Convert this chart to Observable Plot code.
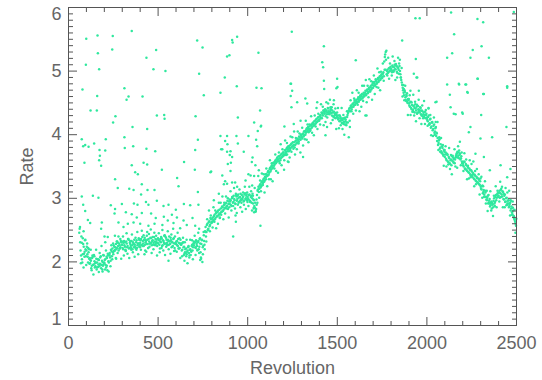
<!DOCTYPE html>
<html><head><meta charset="utf-8">
<script src="https://cdn.jsdelivr.net/npm/d3@7"></script>
<script src="https://cdn.jsdelivr.net/npm/@observablehq/plot@0.6"></script>
<style>body{margin:0;background:#fff}</style>
</head><body><div id="chart"></div>
<script>
// Dense band of measurements: one value every 5 revolutions, three interleaved series
const bandStartA = 60, bandStartB = 62, bandStartC = 64, bandStep = 5;
const bandA = [
2.46,2.31,2.10,2.04,2.37,2.24,2.16,2.20,
2.18,2.12,2.22,2.05,1.98,2.02,1.94,2.08,1.96,2.01,1.93,2.05,1.99,1.92,2.03,1.97,2.09,1.95,2.00,1.96,
1.98,2.04,1.91,2.06,2.10,1.99,2.14,2.02,2.17,2.21,2.12,2.24,2.19,2.28,2.22,2.30,2.18,2.26,2.23,2.31,
2.27,2.20,2.33,2.24,2.18,2.29,2.25,2.35,2.22,2.28,2.19,2.26,2.31,2.23,2.27,2.21,2.34,2.26,2.29,2.24,
2.30,2.36,2.27,2.33,2.25,2.38,2.31,2.28,2.35,2.22,2.32,2.29,2.37,2.26,2.34,2.30,2.27,2.36,2.31,2.25,
2.29,2.34,2.21,2.31,2.37,2.26,2.33,2.28,2.40,2.24,2.30,2.35,2.27,2.32,2.38,2.23,2.31,2.36,2.29,2.18,
2.28,2.33,2.25,2.30,2.22,2.35,2.27,2.19,2.31,2.24,2.15,2.21,2.12,2.18,2.25,2.10,2.20,2.16,2.27,2.23,
2.26,2.31,2.22,2.28,2.19,2.33,2.24,2.29,2.05,2.35,2.12,2.42,2.20,2.55,2.47,2.60,2.52,2.64,2.58,2.67,
2.62,2.70,2.66,2.74,2.69,2.78,2.72,2.81,2.75,2.70,2.84,2.79,2.86,2.82,2.90,2.85,2.93,2.88,2.83,2.95,
2.91,2.97,2.88,3.02,2.94,2.99,2.92,3.05,2.96,2.90,3.01,2.95,3.07,2.93,2.98,3.03,2.96,3.08,3.00,2.97,
3.02,2.98,3.06,2.95,3.04,3.00,2.92,2.97,2.85,2.80,2.90,3.12,3.18,3.15,3.22,3.19,3.27,3.24,3.31,3.28,
3.33,3.38,3.35,3.43,3.40,3.48,3.45,3.52,3.49,3.56,3.53,3.60,3.57,3.64,3.61,3.58,3.67,3.63,3.70,3.66,
3.72,3.68,3.76,3.73,3.80,3.77,3.74,3.83,3.79,3.86,3.82,3.78,3.88,3.84,3.91,3.87,3.93,3.89,3.96,3.92,
3.98,3.94,4.02,3.99,4.06,4.03,4.10,4.07,4.04,4.13,4.09,4.16,4.12,4.19,4.15,4.22,4.18,4.25,4.21,4.28,
4.24,4.31,4.27,4.34,4.30,4.37,4.33,4.29,4.38,4.35,4.41,4.32,4.36,4.40,4.30,4.35,4.28,4.33,4.26,4.31,
4.27,4.24,4.30,4.22,4.26,4.19,4.23,4.17,4.25,4.21,4.15,4.28,4.34,4.38,4.42,4.45,4.40,4.48,4.44,4.51,
4.47,4.53,4.50,4.56,4.52,4.58,4.55,4.61,4.57,4.63,4.60,4.66,4.62,4.69,4.65,4.72,4.68,4.75,4.71,4.78,
4.74,4.81,4.77,4.84,4.80,4.87,4.83,4.90,4.86,4.93,4.89,4.96,4.92,5.22,5.30,4.95,5.02,4.98,5.05,5.01,
5.04,4.98,5.07,5.01,5.10,5.03,5.08,4.97,5.05,5.12,5.00,4.90,4.82,4.74,4.66,4.70,4.59,4.63,4.52,4.56,
4.49,4.44,4.52,4.40,4.46,4.36,4.42,4.48,4.38,4.33,4.45,4.39,4.35,4.42,4.30,4.37,4.32,4.28,4.36,4.31,
4.27,4.21,4.30,4.18,4.25,4.13,4.20,4.09,4.16,4.05,4.12,4.02,3.95,3.87,3.93,3.80,3.74,3.82,3.69,3.76,
3.65,3.72,3.60,3.68,3.57,3.63,3.54,3.61,3.66,3.58,3.62,3.55,3.64,3.69,3.73,3.67,3.75,3.70,3.63,3.58,
3.55,3.50,3.57,3.46,3.52,3.43,3.48,3.40,3.45,3.36,3.42,3.33,3.38,3.30,3.35,3.27,3.32,3.24,3.29,3.21,
3.18,3.14,3.20,3.10,3.06,3.12,3.02,2.97,3.04,2.93,2.99,2.89,2.95,2.91,2.86,3.00,2.94,3.05,3.01,3.08,
3.04,3.12,3.08,3.15,3.03,3.10,2.98,3.06,2.95,3.01,2.92,2.97,2.88,2.93,2.84,2.78,2.85,2.72,2.66,2.60
];
const bandB = [
2.52,2.18,2.40,1.99,2.28,2.13,2.34,2.09,
2.24,2.08,2.15,1.97,2.03,1.90,2.06,1.95,2.11,1.91,1.99,1.88,2.04,1.96,1.93,2.07,1.90,2.02,1.94,2.10,
2.03,1.95,2.08,1.87,2.01,2.12,2.07,2.19,2.09,2.15,2.26,2.17,2.23,2.20,2.32,2.25,2.29,2.21,2.33,2.27,
2.22,2.30,2.26,2.19,2.32,2.23,2.36,2.21,2.30,2.25,2.33,2.20,2.28,2.35,2.24,2.31,2.22,2.29,2.37,2.27,
2.34,2.26,2.39,2.29,2.35,2.27,2.33,2.41,2.28,2.36,2.24,2.38,2.30,2.33,2.27,2.39,2.32,2.28,2.35,2.30,
2.36,2.27,2.32,2.39,2.25,2.34,2.30,2.42,2.29,2.35,2.26,2.33,2.40,2.28,2.34,2.31,2.25,2.37,2.22,2.30,
2.32,2.26,2.36,2.21,2.29,2.27,2.18,2.30,2.23,2.13,2.20,2.09,2.16,2.23,2.14,2.19,2.11,2.25,2.18,2.29,
2.30,2.23,2.34,2.25,2.31,2.20,2.36,2.15,2.28,2.00,2.25,2.33,2.48,2.40,2.58,2.50,2.62,2.56,2.69,2.61,
2.68,2.64,2.72,2.67,2.76,2.71,2.79,2.73,2.82,2.77,2.74,2.87,2.80,2.89,2.84,2.92,2.87,2.96,2.91,2.86,
2.95,2.89,3.00,2.93,3.04,2.97,2.91,3.03,2.99,3.06,2.94,3.02,2.97,3.05,3.01,2.95,3.06,2.99,3.04,3.09,
2.99,3.05,2.96,3.02,2.93,3.07,2.98,2.88,2.93,2.83,3.05,3.14,3.10,3.20,3.17,3.25,3.21,3.29,3.26,3.34,
3.30,3.36,3.41,3.37,3.46,3.42,3.50,3.47,3.55,3.51,3.58,3.55,3.62,3.59,3.66,3.63,3.60,3.69,3.65,3.72,
3.69,3.75,3.71,3.78,3.74,3.82,3.79,3.76,3.85,3.81,3.88,3.84,3.80,3.90,3.86,3.94,3.90,3.97,3.93,4.00,
3.96,4.01,3.97,4.05,4.00,4.08,4.05,4.12,4.09,4.06,4.15,4.11,4.18,4.14,4.21,4.17,4.24,4.20,4.27,4.23,
4.29,4.26,4.35,4.31,4.38,4.34,4.40,4.36,4.32,4.42,4.37,4.33,4.39,4.34,4.38,4.29,4.36,4.31,4.34,4.28,
4.30,4.26,4.21,4.28,4.23,4.18,4.26,4.20,4.16,4.24,4.19,4.31,4.36,4.41,4.37,4.46,4.43,4.49,4.46,4.54,
4.50,4.55,4.52,4.59,4.54,4.60,4.57,4.64,4.59,4.66,4.62,4.69,4.64,4.71,4.67,4.74,4.70,4.77,4.73,4.80,
4.77,4.83,4.79,4.86,4.82,4.89,4.85,4.92,4.88,4.95,4.91,4.98,5.15,5.26,5.18,5.00,4.97,5.04,5.00,5.07,
5.02,5.09,5.00,5.06,5.03,5.11,4.99,5.06,5.02,5.08,4.95,4.86,4.78,4.70,4.62,4.67,4.55,4.61,4.50,4.54,
4.46,4.51,4.42,4.47,4.39,4.45,4.35,4.41,4.44,4.34,4.40,4.36,4.43,4.32,4.38,4.29,4.35,4.31,4.26,4.33,
4.23,4.28,4.16,4.24,4.11,4.19,4.07,4.14,4.03,4.10,3.98,3.90,3.84,3.91,3.78,3.85,3.72,3.79,3.67,3.73,
3.69,3.62,3.70,3.58,3.65,3.55,3.60,3.52,3.59,3.64,3.56,3.61,3.67,3.71,3.64,3.72,3.68,3.61,3.66,3.55,
3.52,3.58,3.47,3.54,3.44,3.50,3.41,3.47,3.38,3.44,3.35,3.40,3.31,3.37,3.28,3.34,3.25,3.31,3.22,3.27,
3.15,3.19,3.08,3.13,3.03,3.09,2.98,3.01,2.92,2.96,2.87,2.93,2.84,2.90,2.96,2.92,3.02,2.97,3.06,3.03,
3.09,3.01,3.13,3.06,3.11,2.99,3.04,2.94,3.00,2.90,2.96,2.86,2.91,2.81,2.87,2.75,2.81,2.68,2.63,2.57
];
const bandC = [
2.55,1.98,2.30,2.12,2.48,2.08,2.35,1.95,
2.29,1.99,2.20,2.06,2.19,1.87,2.10,1.80,2.09,1.98,2.19,1.91,2.04,1.84,2.14,1.96,2.25,1.88,2.11,1.99,
1.88,2.18,1.94,2.13,1.85,2.10,1.93,2.26,2.04,2.29,2.17,2.41,2.06,2.32,2.14,2.40,2.21,2.36,2.05,2.32,
2.40,2.10,2.31,2.17,2.45,2.13,2.36,2.06,2.33,2.22,2.43,2.15,2.28,2.08,2.38,2.19,2.47,2.12,2.35,2.23,
2.19,2.49,2.25,2.42,2.12,2.35,2.16,2.47,2.22,2.44,2.29,2.51,2.14,2.39,2.20,2.46,2.26,2.41,2.10,2.37,
2.45,2.15,2.36,2.22,2.50,2.18,2.41,2.11,2.38,2.27,2.48,2.20,2.33,2.13,2.43,2.24,2.52,2.17,2.40,2.28,
2.16,2.46,2.21,2.37,2.06,2.29,2.09,2.38,2.11,2.31,2.14,2.35,1.98,2.24,2.07,2.35,2.17,2.34,2.04,2.32,
2.41,2.11,2.32,2.18,2.46,2.14,2.37,2.07,2.34,2.23,2.47,2.27,2.47,2.32,2.67,2.51,2.81,2.48,2.73,2.63,
2.54,2.86,2.63,2.81,2.53,2.78,2.60,2.93,2.69,2.93,2.79,3.03,2.67,2.93,2.76,3.03,2.84,3.00,2.70,2.98,
3.11,2.81,3.02,2.88,3.16,2.84,3.07,2.77,3.04,2.93,3.14,2.86,2.99,2.79,3.09,2.90,3.18,2.83,3.06,2.94,
2.88,3.18,2.94,3.11,2.81,3.04,2.85,3.16,2.79,2.98,2.93,3.35,3.01,3.28,3.11,3.39,3.21,3.38,3.09,3.38,
3.47,3.19,3.42,3.30,3.60,3.30,3.55,3.27,3.56,3.47,3.69,3.43,3.58,3.40,3.72,3.55,3.85,3.52,3.77,3.67,
3.60,3.91,3.68,3.87,3.58,3.82,3.64,3.97,3.73,3.96,3.82,4.05,3.69,3.95,3.77,4.05,3.86,4.02,3.72,4.00,
4.11,3.83,4.05,3.93,4.22,3.92,4.16,3.88,4.16,4.07,4.29,4.03,4.17,3.99,4.30,4.13,4.42,4.09,4.33,4.22,
4.16,4.48,4.26,4.44,4.15,4.39,4.20,4.51,4.27,4.49,4.34,4.55,4.18,4.43,4.23,4.48,4.27,4.41,4.09,4.35,
4.42,4.10,4.30,4.15,4.42,4.09,4.31,4.00,4.27,4.16,4.37,4.19,4.38,4.22,4.54,4.37,4.66,4.33,4.57,4.47,
4.38,4.70,4.47,4.66,4.37,4.62,4.44,4.77,4.53,4.77,4.63,4.86,4.51,4.77,4.59,4.87,4.68,4.84,4.55,4.83,
4.93,4.64,4.87,4.75,5.04,4.74,4.98,4.70,4.99,4.89,5.12,4.85,5.02,5.02,5.32,4.93,5.21,4.88,5.12,5.01,
4.93,5.23,4.99,5.16,4.86,5.09,4.90,5.21,4.96,5.18,4.90,5.05,4.60,4.78,4.54,4.77,4.53,4.65,4.31,4.56,
4.62,4.31,4.51,4.36,4.63,4.30,4.52,4.21,4.47,4.35,4.55,4.26,4.38,4.17,4.46,4.26,4.53,4.17,4.39,4.26,
4.14,4.42,4.16,4.31,3.99,4.19,3.98,4.27,4.00,4.20,4.03,4.20,3.76,3.96,3.73,3.95,3.71,3.84,3.51,3.76,
3.82,3.50,3.69,3.53,3.79,3.46,3.68,3.38,3.67,3.56,3.77,3.50,3.65,3.48,3.82,3.63,3.89,3.52,3.72,3.57,
3.43,3.71,3.46,3.61,3.30,3.51,3.31,3.60,3.33,3.54,3.37,3.58,3.19,3.43,3.22,3.46,3.25,3.38,3.06,3.31,
3.34,3.01,3.19,3.02,3.27,2.92,3.12,2.80,3.05,2.92,3.11,2.81,2.93,2.72,3.04,2.88,3.19,2.86,3.12,3.02,
2.95,3.26,3.02,3.18,2.86,3.07,2.86,3.16,2.89,3.09,2.92,3.12,2.73,2.96,2.74,2.95,2.71,2.82,2.46,2.68
];
// Scattered outliers (revolution, rate)
const outRev = [
99,162,247,353,164,244,171,97,78,489,435,474,541,718,748,913,916,941,898,885,1060,1246,729,872,939,1049,1077,848,755,312,
335,324,413,160,123,158,262,249,493,534,536,439,357,709,945,1069,1036,1075,1056,1205,1242,1240,1244,74,82,93,112,143,173,205,
175,171,182,89,208,312,314,361,435,484,353,419,439,372,387,409,260,521,606,645,707,705,722,796,848,852,858,874,885,887,
904,900,906,889,904,937,945,978,1004,1027,1023,1047,1053,1073,1203,1228,1220,874,867,930,1004,1036,
74,136,167,82,93,275,339,363,405,441,480,614,722,236,260,298,365,385,432,446,493,530,558,599,644,679,725,257,320,353,
381,409,461,487,532,577,605,642,692,707,108,121,182,201,219,279,307,331,363,400,446,480,524,554,586,623,660,729,186,205,
84,190,266,428,558,647,735,1071,919,932,934,
792,858,885,913,839,811,941,988,1016,1025,1034,1036,960,913,885,1043,1062,
1425,1416,1421,1603,1425,1499,1501,1427,1388,1332,1276,1239,1248,1481,1462,1443,1564,1663,1434,1309,1570,1871,1908,1257,1295,
2135,1936,1960,2282,2314,2152,1862,1938,2113,2141,2256,2305,2243,2346,2485,2180,2219,2282,2314,2448,2113,2228,2132,2160,2303,2200,2054,2009,1942,1955,1322,1495,1657,
1927,1946,2048,2128,2178,2215,2284,2318,2225,2150,2197,2243,2234,2299,2364,2448,2444,2351,2411,2466,2448,2318,2271,2466,2485
];
const outRate = [
5.51,5.56,5.55,5.63,5.28,5.34,5.03,5.10,4.71,5.33,5.21,5.03,5.00,5.48,5.37,5.49,5.45,5.54,5.25,5.23,5.29,5.62,4.96,4.90,4.76,4.74,4.73,4.66,4.62,4.73,
4.60,4.55,4.60,4.61,4.38,4.38,4.29,4.19,4.30,4.31,4.25,4.09,4.12,4.29,4.27,4.38,4.19,4.14,4.06,4.13,4.80,4.61,4.43,3.93,3.82,3.84,3.81,3.86,3.76,3.75,
3.67,3.60,3.51,3.56,3.93,3.96,3.79,3.82,3.78,3.74,3.52,3.56,3.53,3.41,3.38,3.22,3.30,3.45,3.32,3.57,3.76,3.45,3.92,3.42,3.98,3.77,3.77,3.90,3.98,3.85,
3.74,3.68,3.56,3.54,3.43,3.98,3.86,3.73,3.98,3.64,3.57,3.92,3.82,4.13,3.45,3.57,3.69,3.27,3.22,3.25,3.38,3.35,
3.03,3.04,3.01,2.90,2.80,3.16,3.15,3.13,3.06,3.13,3.13,3.19,3.10,2.89,2.83,2.91,2.92,2.90,2.94,2.90,2.96,2.88,2.90,2.82,2.91,2.89,2.90,2.76,2.78,2.75,
2.70,2.77,2.76,2.69,2.71,2.74,2.70,2.65,2.69,2.57,2.66,2.61,2.52,2.40,2.39,2.62,2.55,2.60,2.62,2.60,2.57,2.60,2.58,2.65,2.61,2.53,2.58,2.52,2.62,2.31,
1.91,1.85,2.05,2.18,2.02,2.02,2.03,2.57,2.40,2.73,2.63,
3.41,3.36,3.23,3.25,3.07,2.97,3.18,3.28,3.36,3.20,2.84,2.78,2.97,3.65,3.73,3.52,3.44,
5.39,5.14,5.06,5.17,4.85,4.88,4.75,4.72,4.51,4.49,4.51,4.80,4.69,4.54,4.43,4.12,3.96,4.30,3.99,3.65,4.12,4.72,4.69,4.17,4.22,
5.92,5.83,5.83,5.82,5.77,5.58,5.48,5.19,5.21,5.28,5.33,5.39,5.21,5.21,5.93,4.79,4.79,4.88,4.64,4.74,4.79,4.66,4.43,4.32,4.31,4.33,4.52,4.41,4.90,4.69,4.57,4.73,4.30,
4.96,4.90,4.51,4.63,4.80,4.79,4.88,4.64,4.67,4.33,4.35,4.12,4.04,3.94,3.96,4.76,4.12,3.44,3.52,3.46,3.33,3.65,3.70,2.97,2.70
];
const xMajor = [0, 500, 1000, 1500, 2000, 2500];
const xTickLabels = ["0", "500", "1000", "1500", "2000", "2500"];
const yMajor = [1, 2, 3, 4, 5, 6];
const yTickLabels = ["1", "2", "3", "4", "5", "6"];
const xTitle = "Revolution";
const yTitle = "Rate";

const points = [
  ...bandA.map((v, i) => ({rev: bandStartA + i * bandStep, rate: v})),
  ...bandB.map((v, i) => ({rev: bandStartB + i * bandStep, rate: v})),
  ...bandC.map((v, i) => ({rev: bandStartC + i * bandStep, rate: v})),
  ...outRev.map((r, i) => ({rev: r, rate: outRate[i]}))
];
const xMinor = d3.range(0, 2501, 100).filter(v => v % 500 !== 0);
const yMinor = d3.range(10, 61, 1).filter(v => v % 10 !== 0).map(v => v / 10);
const fmtX = d => xTickLabels[xMajor.indexOf(d)];
const fmtY = d => yTickLabels[yMajor.indexOf(d)];
const axisColor = "#555";
const textColor = "#666";
const none = () => "";

const chart = Plot.plot({
  width: 542, height: 380,
  marginTop: 7, marginRight: 26, marginBottom: 55, marginLeft: 68,
  style: {fontFamily: "'Liberation Sans', Arial, sans-serif", background: "#fff", color: axisColor},
  x: {domain: [0, 2500], label: null},
  y: {domain: [1, 6], label: null},
  marks: [
    Plot.dot(points, {x: "rev", y: "rate", r: 1.25, fill: "#2fe89e", stroke: null}),
    Plot.frame({stroke: axisColor}),
    // inward ticks, all four sides
    Plot.axisX({ticks: xMinor, tickSize: -4, tickFormat: none, stroke: axisColor}),
    Plot.axisX({ticks: xMajor, tickSize: -8, tickFormat: none, stroke: axisColor}),
    Plot.axisX({anchor: "top", ticks: xMinor, tickSize: -4, tickFormat: none, stroke: axisColor}),
    Plot.axisX({anchor: "top", ticks: xMajor, tickSize: -8, tickFormat: none, stroke: axisColor}),
    Plot.axisY({ticks: yMinor, tickSize: -5, tickFormat: none, stroke: axisColor}),
    Plot.axisY({ticks: yMajor, tickSize: -9, tickFormat: none, stroke: axisColor}),
    Plot.axisY({anchor: "right", ticks: yMinor, tickSize: -5, tickFormat: none, stroke: axisColor}),
    Plot.axisY({anchor: "right", ticks: yMajor, tickSize: -9, tickFormat: none, stroke: axisColor}),
    // labels
    Plot.axisX({ticks: xMajor, tickSize: 0, tickPadding: 11, tickFormat: fmtX, fontSize: 18, fill: textColor,
      label: xTitle, labelAnchor: "center", labelArrow: "none", labelOffset: 48}),
    Plot.axisY({ticks: [2, 3, 4, 5], tickSize: 0, tickPadding: 7, tickFormat: fmtY, fontSize: 18, fill: textColor,
      label: yTitle, labelAnchor: "center", labelArrow: "none", labelOffset: 48}),
    Plot.axisY({ticks: [6], tickSize: 0, tickPadding: 7, tickFormat: fmtY, fontSize: 18, fill: textColor, dy: 7, label: null}),
    Plot.axisY({ticks: [1], tickSize: 0, tickPadding: 7, tickFormat: fmtY, fontSize: 18, fill: textColor, dy: -6, label: null})
  ]
});
document.getElementById("chart").appendChild(chart);
</script>
</body></html>
